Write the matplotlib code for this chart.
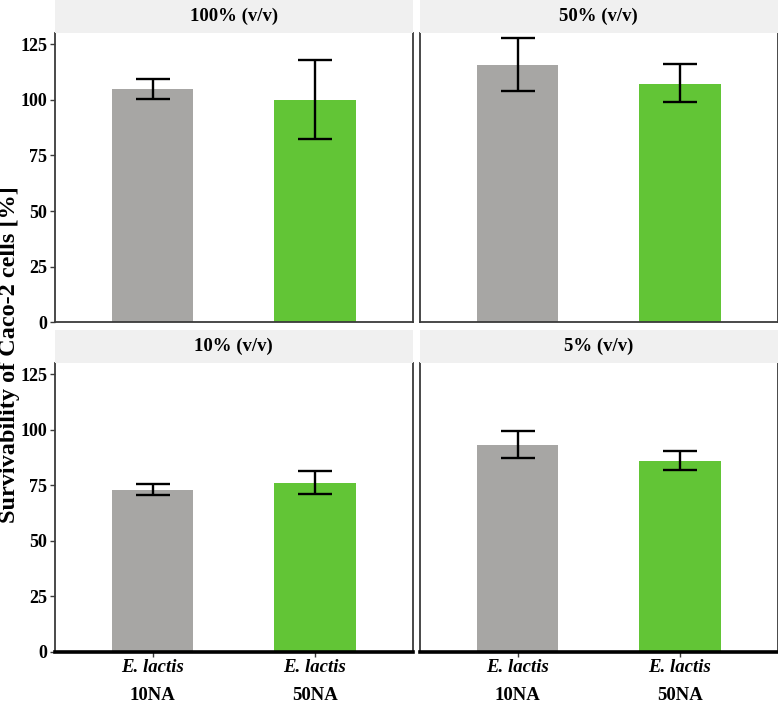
import numpy as np
import matplotlib
matplotlib.use("Agg")
import matplotlib.pyplot as plt
import matplotlib.transforms as mtransforms

plt.rcParams["font.family"] = ["Liberation Serif", "DejaVu Serif"]
plt.rcParams["font.weight"] = "bold"

# Data
panels = ["100% (v/v)", "50% (v/v)", "10% (v/v)", "5% (v/v)"]
strains = ["10NA", "50NA"]
means = [[105, 100], [115.8, 107.2], [73, 76], [93, 86]]
err_low = [[100.2, 82.3], [104, 98.9], [70.7, 70.9], [87.3, 81.7]]
err_high = [[109.4, 118], [127.6, 116], [75.6, 81.3], [99.2, 90.5]]
bar_colors = ["#a7a6a4", "#62c536"]
yticks = [0, 25, 50, 75, 100, 125]

W, H = 778, 704
fig = plt.figure(figsize=(W / 100, H / 100), dpi=100)

cols = [(55, 412.5), (420, 777.5)]
rows = [(0, 33, 322.5), (330, 363, 652)]  # strip top, panel top, panel bottom (px)

edge = "#3a3a3a"
fs = 13.5
x = np.arange(1, len(strains) + 1)

for i, title in enumerate(panels):
    r, c = divmod(i, 2)
    x0, x1 = cols[c]
    s_top, p_top, p_bot = rows[r]
    ax = fig.add_axes([x0 / W, 1 - p_bot / H, (x1 - x0) / W, (p_bot - p_top) / H])
    ax.bar(x, means[i], width=0.5, color=bar_colors, zorder=2)
    lo = np.array(means[i]) - np.array(err_low[i])
    hi = np.array(err_high[i]) - np.array(means[i])
    ax.errorbar(x, means[i], yerr=[lo, hi], fmt="none", ecolor="black",
                elinewidth=1.7, capsize=12, capthick=1.7, zorder=3)
    ax.set_xlim(0.4, 2.6)
    ax.set_ylim(0, 130)
    ax.set_yticks(yticks)
    ax.set_xticks(x)

    for sp in ["left", "right", "bottom"]:
        ax.spines[sp].set_color(edge)
        ax.spines[sp].set_linewidth(1.3)
    ax.spines["top"].set_visible(False)
    if r == 1:
        ax.spines["bottom"].set_color("black")
        ax.spines["bottom"].set_linewidth(2.6)

    ax.tick_params(axis="y", length=3.5, width=1, color=edge, pad=2,
                   labelsize=13, left=(c == 0), labelleft=(c == 0))
    ax.tick_params(axis="x", length=3.5, width=1, color=edge,
                   bottom=(r == 1), labelbottom=False)
    for lab in ax.get_yticklabels():
        lab.set_fontweight("bold")

    if r == 1:
        trans = mtransforms.blended_transform_factory(ax.transData, fig.transFigure)
        for xi, name in zip(x, strains):
            ax.text(xi, 1 - 668 / H, "E. lactis", transform=trans, ha="center",
                    va="center", fontsize=fs, fontstyle="italic", fontweight="bold")
            ax.text(xi, 1 - 696 / H, name, transform=trans, ha="center",
                    va="center", fontsize=fs, fontweight="bold")

    # facet strip
    sax = fig.add_axes([x0 / W, 1 - p_top / H, (x1 - x0) / W, (p_top - s_top) / H])
    sax.set_facecolor("#f0f0f0")
    sax.set_xticks([])
    sax.set_yticks([])
    for sp in sax.spines.values():
        sp.set_visible(False)
    sax.text(0.5, 0.5, title, ha="center", va="center", fontsize=fs,
             fontweight="bold", transform=sax.transAxes)

fig.text(9.5 / W, 1 - 355 / H, "Survivability of Caco-2 cells [%]", rotation=90,
         ha="center", va="center", fontsize=17.5, fontweight="bold")

fig.savefig("out.png", dpi=100)
